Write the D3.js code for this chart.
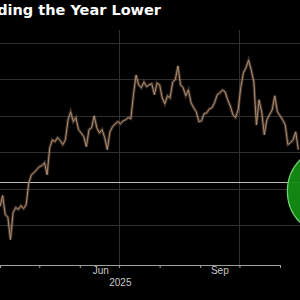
<!DOCTYPE html>
<html lang="en">
<head>
<meta charset="UTF-8">
<title>Ending the Year Lower</title>
<script src="https://d3js.org/d3.v7.min.js"></script>
<style>
    body { margin: 0; background: #000; }
    svg { display: block; background: #000; }
    .title { font-family: "DejaVu Sans", sans-serif; font-weight: bold; font-size: 14.5px; fill: #fff; }
    .lbl { font-family: "Liberation Sans", Arial, sans-serif; font-size: 10px; fill: #c8c8c8; }
</style>
</head>
<body>
<svg width="300" height="300"></svg>
<script>
    // price in thousands USD, one reading every 2 days from 1 Apr 2025
    const startDate = new Date(2025, 3, 1);
    const prices = [
        85.1, 88.1, 82.9, 82.1, 76.0, 83.4, 84.8, 84.3, 85.3, 84.5,
        85.6, 91.6, 93.8, 94.4, 95.2, 96.0, 96.3, 97.1, 93.8, 101.2,
        103.4, 102.9, 104.0, 103.2, 102.1, 103.4, 108.9, 111.1, 108.4, 109.5,
        106.2, 105.3, 104.3, 101.5, 106.2, 106.7, 110.0, 106.7, 105.3, 106.2,
        104.0, 100.7, 105.6, 107.0, 107.8, 108.4, 107.8, 108.6, 108.9, 109.5,
        109.2, 115.8, 121.2, 118.5, 117.7, 119.3, 118.0, 118.5, 118.8, 115.8,
        119.0, 118.5, 114.9, 113.3, 115.5, 114.9, 119.3, 119.9, 123.7, 118.5,
        117.7, 115.5, 117.1, 113.6, 112.2, 111.1, 108.4, 108.6, 110.6, 110.8,
        111.9, 112.2, 113.6, 115.8, 116.3, 117.1, 116.6, 114.4, 112.7, 110.3,
        109.5, 111.6, 117.7, 121.8, 123.2, 125.3, 122.6, 119.3, 107.5, 114.4,
        111.1, 104.8, 108.9, 110.3, 111.6, 115.5, 111.1, 110.0, 108.9, 107.5,
        102.1, 102.6, 103.4, 105.6, 100.7
    ];
    const dates = prices.map((d, i) => d3.timeDay.offset(startDate, i * 2));

    const yTicks = [80, 90, 100, 110, 120, 130];
    const gridMonths = [new Date(2025, 6, 1), new Date(2025, 9, 1)];
    const monthLabels = ["Jun", "Sep"];
    const monthLabelDates = [new Date(2025, 5, 17), new Date(2025, 8, 16)];
    const yearLabel = "2025";
    const yearLabelDate = new Date(2025, 6, 2);
    const refLevel = 91.9;
    const circleCenter = { date: new Date(2025, 11, 11), price: 89.3 };

    const svg = d3.select("svg");
    const plotBottom = 265;

    const x = d3.scaleTime()
        .domain([new Date(2025, 3, 1), new Date(2025, 10, 1)])
        .range([0, 280]);
    const y = d3.scaleLinear()
        .domain([80, 130])
        .range([225, 43]);

    // gridlines
    svg.append("g").selectAll("line")
        .data(yTicks)
        .join("line")
        .attr("x1", 0).attr("x2", 300)
        .attr("y1", d => Math.round(y(d)) + 0.5)
        .attr("y2", d => Math.round(y(d)) + 0.5)
        .attr("stroke", "#303030");

    svg.append("g").selectAll("line")
        .data(gridMonths)
        .join("line")
        .attr("x1", d => Math.round(x(d)) + 0.5)
        .attr("x2", d => Math.round(x(d)) + 0.5)
        .attr("y1", 30).attr("y2", plotBottom)
        .attr("stroke", "#303030");

    // reference level
    svg.append("line")
        .attr("x1", 0).attr("x2", 300)
        .attr("y1", Math.round(y(refLevel)) + 0.5)
        .attr("y2", Math.round(y(refLevel)) + 0.5)
        .attr("stroke", "#bdbdbd");

    // price line
    const line = d3.line()
        .x((d, i) => x(dates[i]))
        .y(d => y(d));

    svg.append("path")
        .datum(prices)
        .attr("fill", "none")
        .attr("stroke", "#7d604a")
        .attr("stroke-width", 3)
        .attr("stroke-opacity", 0.5)
        .attr("d", line);

    svg.append("path")
        .datum(prices)
        .attr("fill", "none")
        .attr("stroke", "#b8967a")
        .attr("stroke-width", 0.9)
        .attr("d", line);

    // highlight circle
    svg.append("circle")
        .attr("cx", x(circleCenter.date))
        .attr("cy", y(circleCenter.price))
        .attr("r", 45)
        .attr("fill", "#138c13")
        .attr("fill-opacity", 0.95)
        .attr("stroke", "#6fd36f")
        .attr("stroke-width", 1.2);

    // x axis
    const axis = svg.append("g")
        .attr("transform", `translate(0, ${plotBottom})`)
        .call(d3.axisBottom(x)
            .ticks(d3.timeMonth.every(1))
            .tickSize(3)
            .tickFormat(""));
    axis.select(".domain").attr("stroke", "#a0a0a0");
    axis.selectAll(".tick line").attr("stroke", "#a0a0a0");

    svg.append("g").selectAll("text")
        .data(monthLabels)
        .join("text")
        .attr("class", "lbl")
        .attr("text-anchor", "middle")
        .attr("x", (d, i) => x(monthLabelDates[i]))
        .attr("y", 274)
        .text(d => d);

    svg.append("text")
        .attr("class", "lbl")
        .attr("text-anchor", "middle")
        .attr("x", x(yearLabelDate))
        .attr("y", 286)
        .text(yearLabel);

    // title, cropped on the left like the source
    svg.append("text")
        .attr("class", "title")
        .attr("text-anchor", "end")
        .attr("x", 161)
        .attr("y", 15)
        .text("Bitcoin Is Ending the Year Lower");
</script>
</body>
</html>
